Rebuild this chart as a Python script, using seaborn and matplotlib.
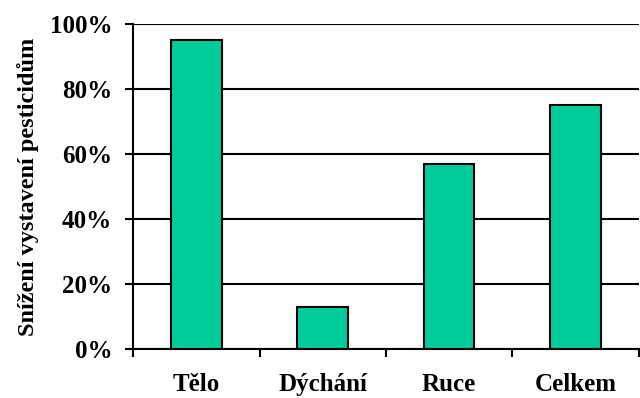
import numpy as np
import pandas as pd
import matplotlib
matplotlib.use("Agg")
import matplotlib.pyplot as plt
import seaborn as sns
from matplotlib.ticker import FixedLocator, PercentFormatter

categories = ["Tělo", "Dýchání", "Ruce", "Celkem"]
values = [95, 13, 57, 75]
y_ticks = [0, 20, 40, 60, 80, 100]
ylabel = "Snížení vystavení pesticidům"

sns.set_style("white")
plt.rcParams['font.family'] = ['Liberation Serif', 'DejaVu Serif']
plt.rcParams['font.weight'] = 'bold'
plt.rcParams['text.color'] = 'black'
plt.rcParams['axes.labelcolor'] = 'black'
plt.rcParams['xtick.color'] = 'black'
plt.rcParams['ytick.color'] = 'black'

df = pd.DataFrame({"cat": categories, "val": values})

fig = plt.figure(figsize=(6.4, 3.98), dpi=100)
ax = fig.add_axes([0.208, 0.123, 0.79, 0.817])

sns.barplot(data=df, x="cat", y="val", ax=ax, color="#00CC99",
            edgecolor="black", linewidth=1.5, width=0.4, saturation=1)

ax.set_ylim(0, 100)
ax.set_xlim(-0.5, len(categories) - 0.5)
ax.set_yticks(y_ticks)
ax.yaxis.set_major_formatter(PercentFormatter(decimals=0))
ax.grid(axis="y", color="black", linewidth=1.5)
ax.set_axisbelow(True)

for s in ["top", "right"]:
    ax.spines[s].set_visible(False)
for s in ["left", "bottom"]:
    ax.spines[s].set_color("black")
    ax.spines[s].set_linewidth(1.5)

# category boundaries as minor ticks, like the original
ax.xaxis.set_minor_locator(FixedLocator(np.arange(-0.5, len(categories), 1.0)))
ax.tick_params(axis="x", which="minor", direction="out", length=6, width=1.5, color="black", bottom=True)
ax.tick_params(axis="x", which="major", length=0, pad=17, labelsize=18, labelcolor="black")
ax.tick_params(axis="y", direction="out", length=6, width=1.5, color="black", left=True, pad=9,
               labelsize=18, labelcolor="black")

for lab in ax.get_xticklabels() + ax.get_yticklabels():
    lab.set_fontweight("bold")

ax.set_xlabel("")
ax.set_ylabel(ylabel, fontsize=17.5, fontweight="bold", labelpad=8, color="black")

fig.savefig("out.png", dpi=100)
